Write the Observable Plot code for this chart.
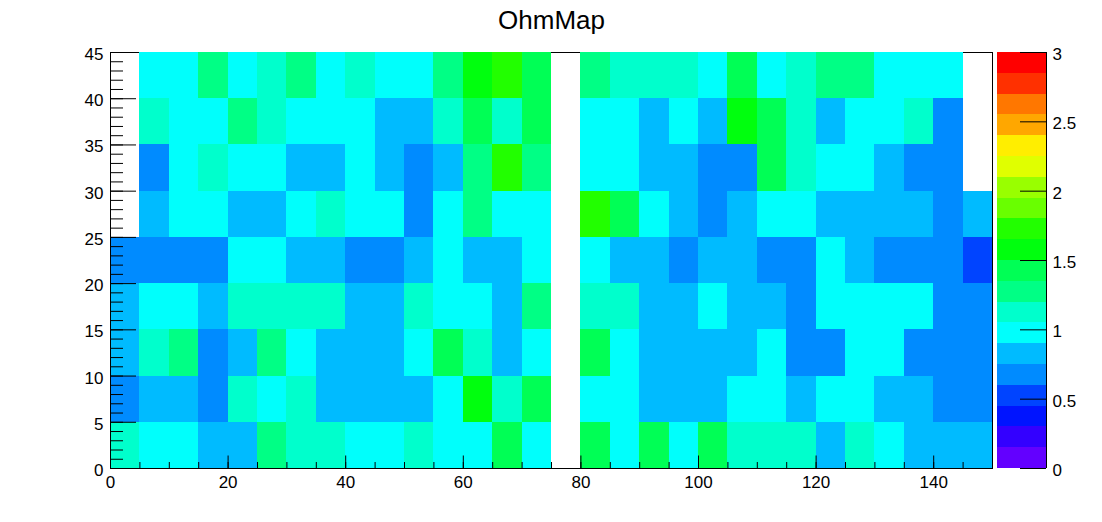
<!DOCTYPE html>
<html><head><meta charset="utf-8">
<script src="https://cdn.jsdelivr.net/npm/d3@7"></script>
<script src="https://cdn.jsdelivr.net/npm/@observablehq/plot@0.6"></script>
<style>
html,body{margin:0;padding:0;background:#fff;}
#wrap{position:relative;width:1102px;height:522px;}
#wrap svg{position:absolute;left:0;top:0;}
</style></head><body><div id="wrap"></div>
<script>
// ---------- data ----------
const title = "OhmMap";
const binWidth = 5;
const xEdges = [0,5,10,15,20,25,30,35,40,45,50,55,60,65,70,75,80,85,90,95,100,105,110,115,120,125,130,135,140,145];
const yEdges = [0,5,10,15,20,25,30,35,40];

const ohm_y0  = [1.12,0.98,0.98,0.82,0.82,1.28,1.12,1.12,0.98,0.98, 1.12,0.98,0.98,1.42,0.98,null,1.42,0.98,1.42,0.98, 1.42,1.12,1.12,1.12,0.82,1.12,0.98,0.82,0.82,0.82];
const ohm_y5  = [0.68,0.82,0.82,0.68,1.12,0.98,1.12,0.82,0.82,0.82, 0.82,0.98,1.58,1.12,1.42,null,0.98,0.98,0.82,0.82, 0.82,0.98,0.98,0.82,0.98,0.98,0.82,0.82,0.68,0.68];
const ohm_y10 = [0.82,1.12,1.28,0.68,0.82,1.28,0.98,0.82,0.82,0.82, 0.98,1.42,1.12,0.82,0.98,null,1.42,0.98,0.82,0.82, 0.82,0.82,0.98,0.68,0.68,0.98,0.98,0.68,0.68,0.68];
const ohm_y15 = [0.82,0.98,0.98,0.82,1.12,1.12,1.12,1.12,0.82,0.82, 1.12,0.98,0.98,0.82,1.28,null,1.12,1.12,0.82,0.82, 0.98,0.82,0.82,0.68,0.98,0.98,0.98,0.98,0.68,0.68];
const ohm_y20 = [0.68,0.68,0.68,0.68,0.98,0.98,0.82,0.82,0.68,0.68, 0.82,0.98,0.82,0.82,0.98,null,0.98,0.82,0.82,0.68, 0.82,0.82,0.68,0.68,0.98,0.82,0.68,0.68,0.68,0.52];
const ohm_y25 = [null,0.82,0.98,0.98,0.82,0.82,0.98,1.12,0.98,0.98, 0.68,0.98,1.28,0.98,0.98,null,1.72,1.42,0.98,0.82, 0.68,0.82,0.98,0.98,0.82,0.82,0.82,0.82,0.68,0.82];
const ohm_y30 = [null,0.68,0.98,1.12,0.98,0.98,0.82,0.82,0.98,0.82, 0.68,0.82,1.28,1.72,1.28,null,0.98,0.98,0.82,0.82, 0.68,0.68,1.42,1.12,0.98,0.98,0.82,0.68,0.68,null];
const ohm_y35 = [null,1.12,0.98,0.98,1.28,1.12,0.98,0.98,0.98,0.82, 0.82,1.12,1.42,1.12,1.42,null,0.98,0.98,0.82,0.98, 0.82,1.58,1.42,1.12,0.82,0.98,0.98,1.12,0.68,null];
const ohm_y40 = [null,0.98,0.98,1.28,0.98,1.12,1.28,0.98,1.12,0.98, 0.98,1.28,1.58,1.72,1.42,null,1.28,1.12,1.12,1.12, 0.98,1.42,0.98,1.12,1.28,1.28,0.98,0.98,0.98,null];

const xTicks = [0,20,40,60,80,100,120,140];
const yTicks = [0,5,10,15,20,25,30,35,40,45];
const zTicks = [0,0.5,1,1.5,2,2.5,3];
const levels = [0,0.15,0.3,0.45,0.6,0.75,0.9,1.05,1.2,1.35,1.5,1.65,1.8,1.95,2.1,2.25,2.4,2.55,2.7,2.85,3];
const palette = ["#6300ff","#3300ff","#0014ff","#0044ff","#008bff","#00bbff","#00fffc","#00ffcc","#00ff85","#00ff55",
                 "#00ff0e","#22ff00","#69ff00","#99ff00","#e0ff00","#ffee00","#ffa700","#ff7700","#ff3000","#ff0000"];

// ---------- build ----------
const rows = [ohm_y0, ohm_y5, ohm_y10, ohm_y15, ohm_y20, ohm_y25, ohm_y30, ohm_y35, ohm_y40];
const cells = [];
rows.forEach((row, r) => row.forEach((v, c) => {
  if (v != null) cells.push({x1: xEdges[c], x2: xEdges[c] + binWidth, y1: yEdges[r], y2: yEdges[r] + binWidth, v});
}));
const bands = levels.slice(0, -1).map((lo, i) => ({lo, hi: levels[i + 1], mid: (lo + levels[i + 1]) / 2}));
const xMinor = d3.range(0, 151, 5);
const yMinor = d3.range(0, 46, 1);

const color = {type: "threshold", domain: levels.slice(1, -1), range: palette};
const W = 1102, H = 522;
const font = "'Liberation Sans', Arial, Helvetica, sans-serif";
const mL = 110, mR = 110, mT = 52, mB = 54;
const fw = W - mL - mR, fh = H - mT - mB;
const fmt = d => String(d);
const fs = 17;

const main = Plot.plot({
  width: W, height: H,
  marginLeft: mL, marginRight: mR, marginTop: mT, marginBottom: mB,
  x: {domain: [0, 150]}, y: {domain: [0, 45]},
  color,
  style: {fontFamily: font, fontSize: fs + "px", background: "white", overflow: "visible", color: "black"},
  marks: [
    Plot.frame({stroke: "black"}),
    Plot.rect(cells, {x1: "x1", x2: "x2", y1: "y1", y2: "y2", fill: "v", inset: 0, shapeRendering: "crispEdges"}),
    Plot.ruleX([0, 150], {stroke: "black"}),
    Plot.ruleY([0], {stroke: "black"}),
    Plot.tickX(xMinor, {x: d => d, stroke: "black", insetTop: fh - 6}),
    Plot.tickX(xTicks, {x: d => d, stroke: "black", insetTop: fh - 12.5}),
    Plot.tickY(yMinor, {y: d => d, stroke: "black", insetRight: fw - 13}),
    Plot.tickY(yTicks, {y: d => d, stroke: "black", insetRight: fw - 26}),
    Plot.axisX({ticks: xTicks, tickSize: 0, tickPadding: 7, label: null, tickFormat: fmt, fontSize: fs}),
    Plot.axisY({ticks: yTicks, tickSize: 0, tickPadding: 7, label: null, tickFormat: fmt, fontSize: fs, dy: 2}),
    Plot.text([title], {frameAnchor: "top", dy: -24, lineAnchor: "bottom", fontSize: 26, text: d => d})
  ]
});

const bL = 997, bR = 1046;
const bar = Plot.plot({
  width: W, height: H,
  marginLeft: bL, marginRight: W - bR, marginTop: mT, marginBottom: mB,
  x: {domain: [0, 1], axis: null}, y: {domain: [0, 3]},
  color,
  style: {fontFamily: font, fontSize: fs + "px", background: "transparent", overflow: "visible", color: "black"},
  marks: [
    Plot.rect(bands, {x1: 0, x2: 1, y1: "lo", y2: "hi", fill: "mid", inset: 0, shapeRendering: "crispEdges"}),
    Plot.ruleX([1], {stroke: "black"}),
    Plot.tickY(zTicks, {y: d => d, stroke: "black", insetLeft: (bR - bL) - 26}),
    Plot.axisY({anchor: "right", ticks: zTicks, tickSize: 0, tickPadding: 6, label: null, tickFormat: fmt, fontSize: fs, dy: 2})
  ]
});

const wrap = document.getElementById("wrap");
wrap.appendChild(main);
wrap.appendChild(bar);
</script>
</body></html>
